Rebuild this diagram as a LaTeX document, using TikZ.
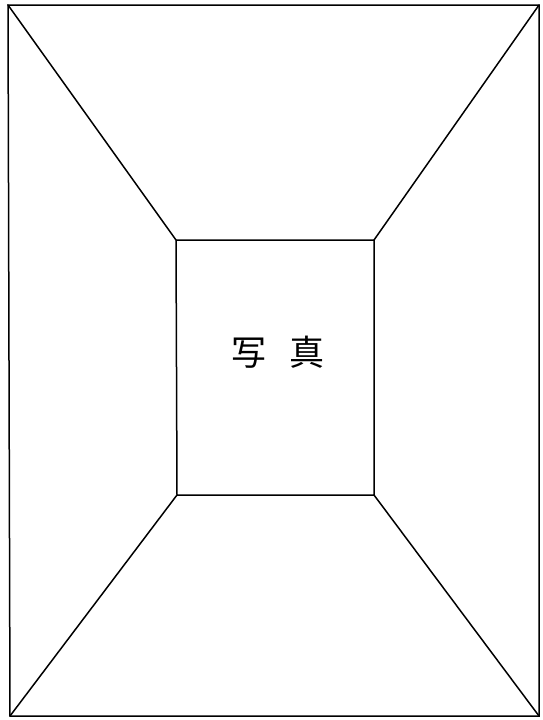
\documentclass[tikz,border=0pt]{standalone}
\usepackage{fontspec}
\newfontfamily\cjk{Noto Sans CJK JP}
\begin{document}
\begin{tikzpicture}[x=1pt,y=-1pt,
  edge/.style={draw=black,line width=1.5pt,line cap=round,line join=miter}]
\useasboundingbox (0,0) rectangle (542,720);
\coordinate (o1) at (8,5);
\coordinate (o2) at (539,5);
\coordinate (o3) at (539,716);
\coordinate (o4) at (10,716);
\coordinate (i1) at (176,240);
\coordinate (i2) at (374,240);
\coordinate (i3) at (374,495);
\coordinate (i4) at (177,495);
\draw[edge] (o1) -- (o2) -- (o3) -- (o4) -- cycle;
\draw[edge] (i1) -- (i2) -- (i3) -- (i4) -- cycle;
\draw[edge] (o1) -- (i1);
\draw[edge] (o2) -- (i2);
\draw[edge] (o3) -- (i3);
\draw[edge] (o4) -- (i4);
\node[font=\cjk\fontsize{35}{35}\selectfont,inner sep=0pt] (label) at (278,352) {写\hspace{24pt}真};
\end{tikzpicture}
\end{document}
